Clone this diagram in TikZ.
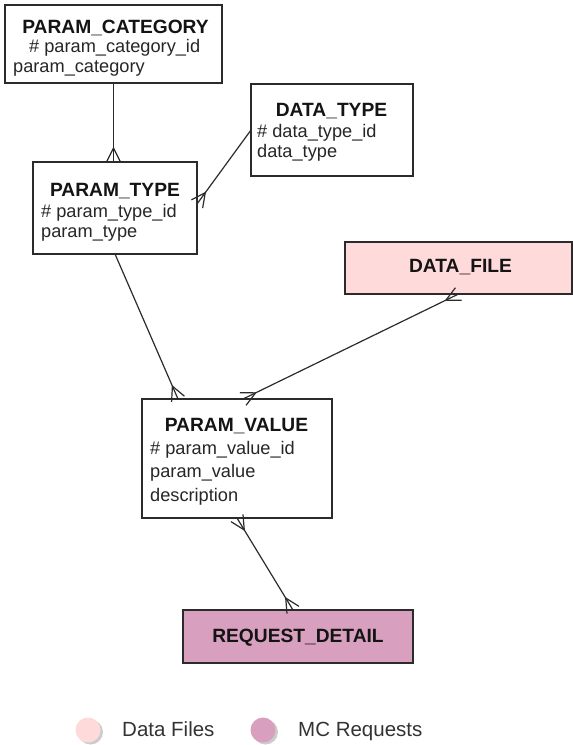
\documentclass[tikz,border=0pt]{standalone}
\usepackage{fontspec}
\setmainfont{Liberation Sans}
\usetikzlibrary{calc,shadows}
\definecolor{lnc}{HTML}{2B2B2B}
\definecolor{dfpink}{HTML}{FFDADA}
\definecolor{rdmauve}{HTML}{D8A0BE}
\tikzset{
 ent/.style={draw=lnc, line width=1.3pt, rectangle, inner sep=0pt, outer sep=0pt, fill=white},
 ttl/.style={font=\fontsize{19.2}{21}\selectfont\bfseries, anchor=base, text=black!92, inner sep=0pt},
 att/.style={font=\fontsize{18.2}{21}\selectfont, anchor=base west, text=black!85, inner sep=0pt},
 conn/.style={draw=lnc, line width=1.2pt},
 leg/.style={circle, minimum size=25pt, inner sep=0pt, drop shadow={shadow xshift=2.5pt, shadow yshift=-2pt, opacity=0.4}},
 legt/.style={font=\fontsize{20.5}{23}\selectfont, anchor=base west, text=black!80, inner sep=0pt}
}
\newcommand\crowfoot[2]{%
  \draw[conn] ($(#1)!7pt!90:(#2)$) -- ($(#1)!14pt!(#2)$) -- ($(#1)!7pt!-90:(#2)$);}
\begin{document}
\begin{tikzpicture}[x=1pt,y=-1pt]
\useasboundingbox (0,0) rectangle (573,745);
% entity boxes
\node[ent, minimum width=217pt, minimum height=78pt] (pc) at (113.5,44) {};
\node[ent, minimum width=164pt, minimum height=92pt] (pt) at (115,208) {};
\node[ent, minimum width=162pt, minimum height=92pt] (dt) at (332,130) {};
\node[ent, fill=dfpink, minimum width=227pt, minimum height=52pt] (df) at (458.5,268) {};
\node[ent, minimum width=190pt, minimum height=119pt] (pv) at (237,458.5) {};
\node[ent, fill=rdmauve, minimum width=230pt, minimum height=53pt] (rd) at (298,636.5) {};
% texts
\node[ttl] (pct) at (115.5,33) {PARAM\_CATEGORY};
\node[att] (pca1) at (29,52) {\# param\_category\_id};
\node[att] (pca2) at (13,72) {param\_category};
\node[ttl] (ptt) at (115,196) {PARAM\_TYPE};
\node[att] (pta1) at (41,217) {\# param\_type\_id};
\node[att] (pta2) at (41,237) {param\_type};
\node[ttl] (dtt) at (331.5,116) {DATA\_TYPE};
\node[att] (dta1) at (257,137) {\# data\_type\_id};
\node[att] (dta2) at (257,157) {data\_type};
\node[ttl] (pvt) at (236.5,431) {PARAM\_VALUE};
\node[att] (pva1) at (150,454) {\# param\_value\_id};
\node[att] (pva2) at (150,477) {param\_value};
\node[att] (pva3) at (150,501) {description};
\node[ttl] (dft) at (460.5,272) {DATA\_FILE};
\node[ttl] (rdt) at (298,642) {REQUEST\_DETAIL};
% connection points
\coordinate (e1b) at (pc.south |- pt.north);
\coordinate (e2b) at ($(pt.east)+(0,-4)$);
\coordinate (e3b) at ($(pv.north west)+(36,0)$);
\coordinate (e4b) at ($(pv.north)+(6,0)$);
\coordinate (e5b) at ($(rd.north)+(-5,0)$);
% connectors
\draw[conn] (pc.south) -- (e1b);
\crowfoot{e1b}{pc.south}
\draw[conn] (dt.west) -- (e2b);
\crowfoot{e2b}{dt.west}
\draw[conn] (pt.south) -- (e3b);
\crowfoot{e3b}{pt.south}
\draw[conn] (df.south) -- (e4b);
\crowfoot{e4b}{df.south}
\crowfoot{df.south}{e4b}
\draw[conn] (pv.south) -- (e5b);
\crowfoot{e5b}{pv.south}
\crowfoot{pv.south}{e5b}
% legend
\node[leg, fill=dfpink] (l1) at (88,730) {};
\node[legt] (l1t) at (122,736) {Data Files};
\node[leg, fill=rdmauve] (l2) at (263,730) {};
\node[legt] (l2t) at (298,736) {MC Requests};
\end{tikzpicture}
\end{document}
